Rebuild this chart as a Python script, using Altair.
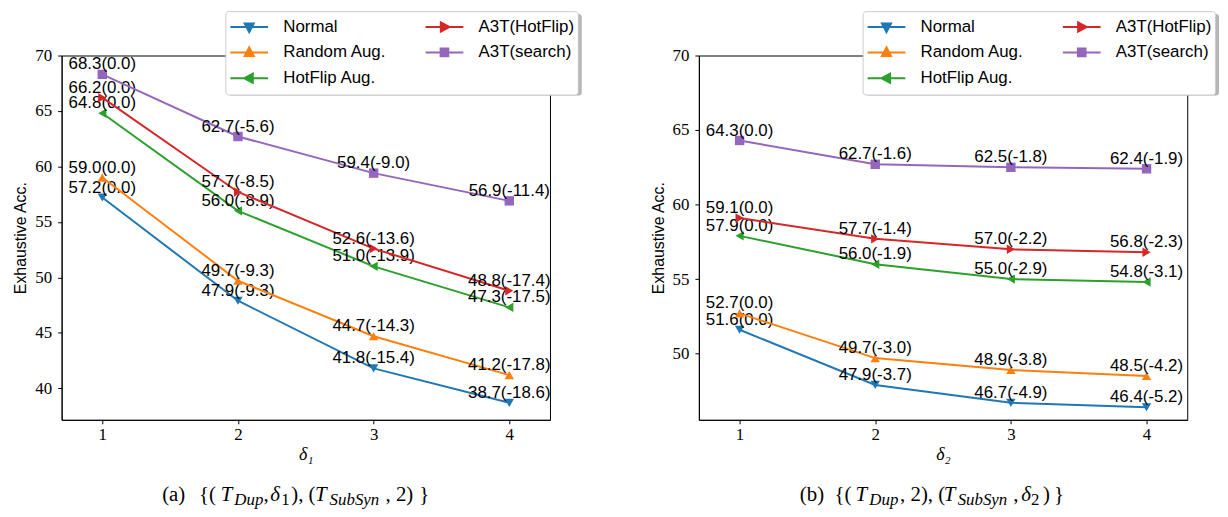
import altair as alt
import pandas as pd

# ---------------- data ----------------
steps = [1, 2, 3, 4]
series_names = ["Normal", "Random Aug.", "HotFlip Aug.", "A3T(HotFlip)", "A3T(search)"]

# panel (a): {(T_Dup, delta1), (T_SubSyn, 2)}
a_normal = [57.2, 47.9, 41.8, 38.7]
a_random = [59.0, 49.7, 44.7, 41.2]
a_hotflip = [64.8, 56.0, 51.0, 47.3]
a_a3t_hotflip = [66.2, 57.7, 52.6, 48.8]
a_a3t_search = [68.3, 62.7, 59.4, 56.9]
a_normal_d = [0.0, -9.3, -15.4, -18.6]
a_random_d = [0.0, -9.3, -14.3, -17.8]
a_hotflip_d = [0.0, -8.9, -13.9, -17.5]
a_a3t_hotflip_d = [0.0, -8.5, -13.6, -17.4]
a_a3t_search_d = [0.0, -5.6, -9.0, -11.4]

# panel (b): {(T_Dup, 2), (T_SubSyn, delta2)}
b_normal = [51.6, 47.9, 46.7, 46.4]
b_random = [52.7, 49.7, 48.9, 48.5]
b_hotflip = [57.9, 56.0, 55.0, 54.8]
b_a3t_hotflip = [59.1, 57.7, 57.0, 56.8]
b_a3t_search = [64.3, 62.7, 62.5, 62.4]
b_normal_d = [0.0, -3.7, -4.9, -5.2]
b_random_d = [0.0, -3.0, -3.8, -4.2]
b_hotflip_d = [0.0, -1.9, -2.9, -3.1]
b_a3t_hotflip_d = [0.0, -1.4, -2.2, -2.3]
b_a3t_search_d = [0.0, -1.6, -1.8, -1.9]

a_yticks = [40, 45, 50, 55, 60, 65, 70]
b_yticks = [50, 55, 60, 65, 70]

# ---------------- styles ----------------
colors = ["#1f77b4", "#ff7f0e", "#2ca02c", "#d62728", "#9467bd"]
marker_shapes = ["triangle-down", "triangle-up", "triangle-left", "triangle-right", "square"]
m = 0.24
line_path = "M-1,0L1,0"
legend_paths = [
    line_path + f"M-{m},-{m*0.8}L{m},-{m*0.8}L0,{m*1.1}Z",
    line_path + f"M-{m},{m*0.8}L{m},{m*0.8}L0,-{m*1.1}Z",
    line_path + f"M{m*0.8},-{m}L{m*0.8},{m}L-{m*1.1},0Z",
    line_path + f"M-{m*0.8},-{m}L-{m*0.8},{m}L{m*1.1},0Z",
    line_path + f"M-{m*0.85},-{m*0.85}L{m*0.85},-{m*0.85}L{m*0.85},{m*0.85}L-{m*0.85},{m*0.85}Z",
]

SANS = "Liberation Sans"
SERIF = "Liberation Serif"
PW, PH = 492, 367
LEG_X, LEG_Y = 165, -44.7
LEG_W, LEG_H = 356, 82


def make_df(vals, deltas):
    rows = []
    for s, vs, ds in zip(series_names, vals, deltas):
        for x, v, d in zip(steps, vs, ds):
            rows.append({"series": s, "step": x, "acc": v, "label": f"{v:.1f}({d:.1f})"})
    return pd.DataFrame(rows)


ONE = alt.Data(values=[{"k": 0}])


def caption_layer(pieces):
    out = []
    for text, x, italic, sub in pieces:
        out.append(
            alt.Chart(ONE).mark_text(
                text=text, align="left", baseline="alphabetic",
                font=SERIF, fontSize=17 if sub else 21,
                fontStyle="italic" if italic else "normal", color="black",
            ).encode(x=alt.value(x), y=alt.value(452.5 if sub else 448.3))
        )
    return out


def panel(vals, deltas, ydomain, yticks, xtitle, captions):
    df = make_df(vals, deltas)
    base = alt.Chart(df)
    xenc = alt.X(
        "step:Q",
        scale=alt.Scale(domain=[0.7, 4.3], nice=False, zero=False),
        axis=alt.Axis(values=steps, format="d", title=xtitle, titleFont=SERIF,
                      titleFontSize=18, titleFontStyle="italic", titleFontWeight="normal",
                      titlePadding=3),
    )
    yenc = alt.Y(
        "acc:Q",
        scale=alt.Scale(domain=ydomain, nice=False, zero=False),
        axis=alt.Axis(values=yticks, format="d", title="Exhaustive Acc.", titleFont=SANS,
                      titleFontSize=16, titleFontWeight="normal", titlePadding=6),
    )
    # legend shadow (drawn under the legend box)
    shadow = alt.Chart(ONE).mark_rect(color="#b5b5b5", cornerRadius=3).encode(
        x=alt.value(LEG_X + 3), x2=alt.value(LEG_X + LEG_W + 3),
        y=alt.value(LEG_Y + 3), y2=alt.value(LEG_Y + LEG_H + 3),
    )
    layers = [shadow]
    for s, c, shp in zip(series_names, colors, marker_shapes):
        sub = base.transform_filter(alt.datum.series == s)
        layers.append(sub.mark_line(color=c, strokeWidth=2).encode(x=xenc, y=yenc))
        layers.append(
            sub.mark_point(shape=shp, filled=True, size=90, color=c, opacity=1).encode(x=xenc, y=yenc)
        )
        layers.append(
            sub.mark_text(align="center", baseline="alphabetic", dy=-5, font=SANS,
                          fontSize=17, color="black").encode(x=xenc, y=yenc, text="label:N")
        )
    leg = alt.Legend(
        title=None, orient="none", legendX=LEG_X, legendY=LEG_Y, columns=2,
        symbolSize=1444, symbolStrokeWidth=2, clipHeight=25.2, rowPadding=0,
        columnPadding=36.7, padding=3, symbolOffset=1, labelOffset=14.3,
        labelFont=SANS, labelFontSize=17, labelColor="black", fillColor="white",
        strokeColor="#cccccc", cornerRadius=3, symbolOpacity=1,
    )
    legend_layer = base.transform_filter("false").mark_point(filled=True).encode(
        x=xenc, y=yenc,
        shape=alt.Shape("series:N", scale=alt.Scale(domain=series_names, range=legend_paths), legend=leg),
        fill=alt.Fill("series:N", scale=alt.Scale(domain=series_names, range=colors), legend=leg),
        stroke=alt.Stroke("series:N", scale=alt.Scale(domain=series_names, range=colors), legend=leg),
    )
    layers.append(legend_layer)
    layers.extend(caption_layer(captions))
    return alt.layer(*layers).properties(width=PW, height=PH)


cap_a = [
    ("(a)", 101.3, False, False),
    ("{(", 138.3, False, False),
    ("T", 160.3, True, False),
    ("Dup", 174, True, True),
    (",", 203.3, False, False),
    ("δ", 210.3, True, False),
    ("1", 221.3, False, True),
    ("), (", 231.3, False, False),
    ("T", 255.3, True, False),
    ("SubSyn", 270, True, True),
    (", 2)", 326.3, False, False),
    ("}", 360.3, False, False),
]
cap_b = [
    ("(b)", 101.7, False, False),
    ("{(", 136.7, False, False),
    ("T", 157.7, True, False),
    ("Dup", 171.7, True, True),
    (", 2), (", 202.7, False, False),
    ("T", 246.7, True, False),
    ("SubSyn", 260.7, True, True),
    (",", 316.7, False, False),
    ("δ", 324.7, True, False),
    ("2", 334.7, False, True),
    (")", 346.7, False, False),
    ("}", 357.7, False, False),
]

left = panel(
    [a_normal, a_random, a_hotflip, a_a3t_hotflip, a_a3t_search],
    [a_normal_d, a_random_d, a_hotflip_d, a_a3t_hotflip_d, a_a3t_search_d],
    [37.17, 70], a_yticks, "δ₁", cap_a,
)
right = panel(
    [b_normal, b_random, b_hotflip, b_a3t_hotflip, b_a3t_search],
    [b_normal_d, b_random_d, b_hotflip_d, b_a3t_hotflip_d, b_a3t_search_d],
    [45.56, 70], b_yticks, "δ₂", cap_b,
)

chart = (
    alt.hconcat(left, right, spacing=67)
    .resolve_scale(shape="independent", fill="independent", stroke="independent")
    .resolve_legend(shape="independent", fill="independent", stroke="independent")
    .configure(padding={"left": 4, "top": 0, "right": 0, "bottom": 0}, background="white")
    .configure_view(stroke="black", strokeWidth=1)
    .configure_axis(
        grid=False, domainColor="black", tickColor="black", tickSize=4,
        labelFont=SERIF, labelFontSize=17, labelColor="black", labelPadding=5,
        titleColor="black",
    )
    .configure_axisX(labelPadding=3)
    .configure_axisY(labelPadding=6)
)

chart.save("out.html", embed_options={"renderer": "svg", "actions": False})
